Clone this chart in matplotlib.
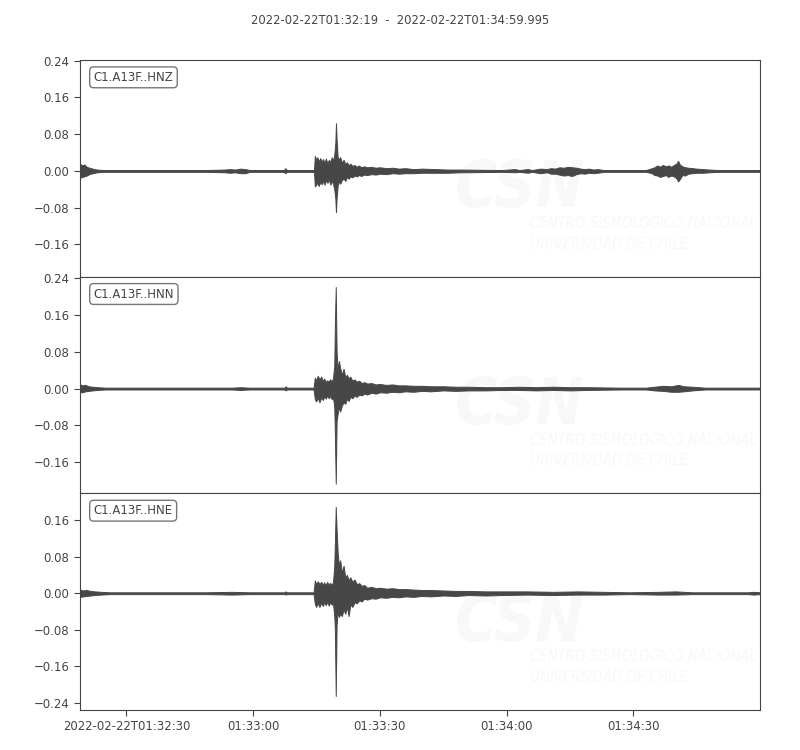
import numpy as np
import matplotlib
matplotlib.use("Agg")
import matplotlib.pyplot as plt
from matplotlib.ticker import MultipleLocator

# time in seconds after 2022-02-22T01:32:19; rows are (t, upper envelope, lower envelope)
title = "2022-02-22T01:32:19  -  2022-02-22T01:34:59.995"
channels = ["C1.A13F..HNZ", "C1.A13F..HNN", "C1.A13F..HNE"]
tick_secs = [11, 41, 71, 101, 131]
tick_labels = ["2022-02-22T01:32:30", "01:33:00", "01:33:30", "01:34:00", "01:34:30"]
t_end = 160.995

hnz_env = [
    (0, 0.016, -0.015), (0.5, 0.012, -0.013), (1.0, 0.014, -0.012), (1.6, 0.009, -0.010),
    (2.2, 0.007, -0.007), (3.0, 0.005, -0.005), (4.0, 0.003, -0.003), (5.5, 0.002, -0.002),
    (30, 0.002, -0.002), (34.3, 0.003, -0.003), (35.5, 0.004, -0.004), (36.7, 0.003, -0.003),
    (38, 0.005, -0.005), (39.1, 0.004, -0.005), (40.2, 0.002, -0.002), (48.3, 0.002, -0.002),
    (48.6, 0.006, -0.005), (49, 0.002, -0.002), (55.4, 0.002, -0.002),
    (55.6, 0.033, -0.034), (55.9, 0.024, -0.030), (56.2, 0.030, -0.026), (56.5, 0.021, -0.033),
    (56.9, 0.028, -0.024), (57.2, 0.019, -0.029), (57.5, 0.026, -0.022), (57.9, 0.018, -0.030),
    (58.2, 0.027, -0.020), (58.6, 0.016, -0.026), (58.9, 0.024, -0.018), (59.3, 0.020, -0.030),
    (59.6, 0.030, -0.022), (59.9, 0.022, -0.027), (60.2, 0.035, -0.040), (60.45, 0.060, -0.060),
    (60.6, 0.104, -0.090), (60.75, 0.070, -0.060), (61.0, 0.030, -0.032), (61.3, 0.026, -0.022),
    (61.6, 0.030, -0.028), (62.0, 0.018, -0.020), (62.4, 0.024, -0.016), (62.8, 0.015, -0.022),
    (63.2, 0.019, -0.013), (63.6, 0.012, -0.017), (64.0, 0.016, -0.012), (64.5, 0.011, -0.014),
    (65.0, 0.013, -0.010), (65.5, 0.009, -0.012), (66.0, 0.012, -0.009), (66.6, 0.008, -0.011),
    (67.2, 0.010, -0.008), (68, 0.008, -0.009), (69, 0.009, -0.007), (70, 0.007, -0.008),
    (71, 0.008, -0.006), (72.5, 0.006, -0.007), (74, 0.007, -0.005), (75.5, 0.005, -0.006),
    (77, 0.006, -0.005), (79, 0.004, -0.005), (81, 0.005, -0.004), (84, 0.004, -0.004),
    (87, 0.003, -0.004), (90, 0.003, -0.003), (100, 0.002, -0.002), (103, 0.004, -0.003),
    (104, 0.002, -0.002), (106, 0.004, -0.004), (107, 0.002, -0.002), (109, 0.005, -0.005),
    (110.5, 0.004, -0.003), (111.5, 0.006, -0.006), (112.5, 0.005, -0.006), (113.5, 0.008, -0.008),
    (114.5, 0.007, -0.010), (115.5, 0.009, -0.009), (116.5, 0.008, -0.011), (117.5, 0.007, -0.007),
    (118.5, 0.005, -0.005), (119.5, 0.004, -0.006), (120.5, 0.005, -0.004), (121.5, 0.003, -0.005),
    (122.5, 0.004, -0.004), (124, 0.002, -0.002), (134, 0.002, -0.002), (135.4, 0.006, -0.005),
    (136, 0.008, -0.009), (136.7, 0.012, -0.010), (137.3, 0.009, -0.013), (138, 0.013, -0.011),
    (138.7, 0.010, -0.009), (139.3, 0.012, -0.013), (140, 0.009, -0.010), (140.6, 0.013, -0.012),
    (141.2, 0.016, -0.016), (141.6, 0.022, -0.023), (142, 0.014, -0.018), (142.6, 0.010, -0.009),
    (143.3, 0.008, -0.010), (144, 0.007, -0.006), (145, 0.006, -0.005), (146, 0.005, -0.004),
    (147.5, 0.004, -0.004), (149, 0.003, -0.003), (151, 0.002, -0.002), (161, 0.002, -0.002),
]

hnn_env = [
    (0, 0.009, -0.008), (0.6, 0.007, -0.008), (1.3, 0.008, -0.006), (2.0, 0.005, -0.005),
    (3.0, 0.004, -0.004), (4.2, 0.003, -0.003), (6, 0.002, -0.002), (36, 0.002, -0.002),
    (38, 0.003, -0.003), (40, 0.002, -0.002), (48.4, 0.002, -0.002), (48.7, 0.005, -0.004),
    (49, 0.002, -0.002), (55.3, 0.002, -0.002),
    (55.6, 0.024, -0.023), (55.9, 0.018, -0.028), (56.3, 0.028, -0.020), (56.7, 0.020, -0.030),
    (57.1, 0.026, -0.019), (57.5, 0.016, -0.025), (57.8, 0.022, -0.017), (58.2, 0.014, -0.022),
    (58.5, 0.018, -0.015), (58.9, 0.015, -0.021), (59.2, 0.020, -0.016), (59.6, 0.016, -0.023),
    (59.9, 0.022, -0.019), (60.2, 0.050, -0.040), (60.35, 0.140, -0.100), (60.55, 0.221, -0.207),
    (60.75, 0.080, -0.070), (61.0, 0.040, -0.055), (61.3, 0.060, -0.040), (61.6, 0.045, -0.050),
    (62.0, 0.030, -0.037), (62.4, 0.043, -0.030), (62.8, 0.025, -0.033), (63.2, 0.030, -0.022),
    (63.6, 0.022, -0.027), (64.0, 0.026, -0.018), (64.5, 0.017, -0.021), (65.0, 0.020, -0.015),
    (65.5, 0.015, -0.018), (66.1, 0.017, -0.013), (66.7, 0.012, -0.015), (67.3, 0.014, -0.011),
    (68, 0.011, -0.013), (69, 0.012, -0.009), (70, 0.009, -0.011), (71, 0.010, -0.008),
    (72.5, 0.008, -0.009), (74, 0.009, -0.007), (75.5, 0.007, -0.008), (77, 0.007, -0.006),
    (79, 0.006, -0.007), (81, 0.006, -0.005), (83, 0.005, -0.006), (86, 0.005, -0.004),
    (89, 0.004, -0.005), (92, 0.004, -0.004), (96, 0.003, -0.004), (100, 0.003, -0.003),
    (104, 0.004, -0.003), (108, 0.003, -0.004), (112, 0.004, -0.003), (116, 0.003, -0.004),
    (120, 0.003, -0.003), (128, 0.002, -0.002), (134, 0.002, -0.002), (136, 0.004, -0.004),
    (138, 0.006, -0.005), (140, 0.005, -0.007), (141.6, 0.008, -0.007), (143, 0.005, -0.006),
    (145, 0.004, -0.004), (148, 0.002, -0.002), (161, 0.002, -0.002),
]

hne_env = [
    (0, 0.008, -0.008), (0.7, 0.006, -0.007), (1.5, 0.007, -0.006), (2.5, 0.005, -0.005),
    (3.5, 0.004, -0.004), (5.0, 0.003, -0.003), (7, 0.002, -0.002), (30, 0.002, -0.002),
    (36, 0.003, -0.003), (40, 0.002, -0.002), (48.4, 0.002, -0.002), (48.7, 0.004, -0.003),
    (49, 0.002, -0.002), (55.3, 0.002, -0.002),
    (55.6, 0.028, -0.023), (55.9, 0.020, -0.030), (56.3, 0.026, -0.022), (56.7, 0.020, -0.030),
    (57.1, 0.025, -0.021), (57.5, 0.018, -0.028), (57.8, 0.024, -0.020), (58.2, 0.017, -0.026),
    (58.5, 0.025, -0.019), (58.9, 0.018, -0.027), (59.2, 0.023, -0.020), (59.6, 0.018, -0.025),
    (59.9, 0.024, -0.022), (60.2, 0.060, -0.050), (60.35, 0.110, -0.080), (60.55, 0.189, -0.225),
    (60.75, 0.140, -0.070), (61.0, 0.090, -0.040), (61.3, 0.060, -0.052), (61.6, 0.072, -0.045),
    (62.0, 0.045, -0.050), (62.4, 0.060, -0.035), (62.8, 0.035, -0.045), (63.2, 0.040, -0.030),
    (63.6, 0.028, -0.050), (64.0, 0.035, -0.025), (64.5, 0.025, -0.030), (65.0, 0.030, -0.020),
    (65.5, 0.020, -0.022), (66.1, 0.022, -0.016), (66.7, 0.016, -0.018), (67.3, 0.018, -0.012),
    (68, 0.012, -0.014), (69, 0.014, -0.011), (70, 0.011, -0.012), (71, 0.012, -0.009),
    (72.5, 0.010, -0.010), (74, 0.011, -0.008), (75.5, 0.009, -0.009), (77, 0.009, -0.007),
    (79, 0.008, -0.008), (81, 0.007, -0.006), (83, 0.007, -0.007), (86, 0.006, -0.005),
    (89, 0.005, -0.006), (92, 0.005, -0.004), (96, 0.004, -0.005), (100, 0.004, -0.004),
    (106, 0.004, -0.003), (112, 0.003, -0.004), (118, 0.004, -0.003), (124, 0.003, -0.003),
    (130, 0.002, -0.002), (137, 0.003, -0.003), (141, 0.004, -0.003), (145, 0.002, -0.002),
    (158, 0.002, -0.002), (159.5, 0.003, -0.003), (161, 0.002, -0.002),
]

traces = [hnz_env, hnn_env, hne_env]
ylims = [(-0.2304, 0.2417), (-0.228, 0.2435), (-0.2557, 0.2186)]

ink = "#474747"
txt = "#444444"
wm = "#f8f8f8"
plt.rcParams["font.family"] = "DejaVu Sans"
plt.rcParams["font.stretch"] = "condensed"

fig, axes = plt.subplots(3, 1, figsize=(8, 7.5), dpi=100, sharex=True)
fig.subplots_adjust(left=0.1, right=0.95, top=0.92, bottom=0.0533, hspace=0)
fig.suptitle(title, y=0.982, fontsize=9.3, color=txt)

for ax, env, name, yl in zip(axes, traces, channels, ylims):
    t, up, lo = np.array(env).T
    # faint CSN watermark
    ax.text(0.552, 0.32, "CSN", transform=ax.transAxes, fontsize=46, fontweight="bold",
            style="italic", color=wm, zorder=0, clip_on=True)
    ax.text(0.662, 0.225, "CENTRO SISMOLÓGICO NACIONAL", transform=ax.transAxes, fontsize=10.6,
            style="italic", color=wm, zorder=0, clip_on=True)
    ax.text(0.662, 0.13, "UNIVERSIDAD DE CHILE", transform=ax.transAxes, fontsize=10.6,
            style="italic", color=wm, zorder=0, clip_on=True)

    ax.fill_between(t, lo, up, color=ink, lw=0.7, zorder=2)
    ax.set_xlim(0, t_end)
    ax.set_ylim(*yl)
    ax.yaxis.set_major_locator(MultipleLocator(0.08))
    ax.yaxis.set_major_formatter(plt.FuncFormatter(lambda v, p: f"{v:.2f}".replace("-", "\u2212")))
    ax.tick_params(axis="y", labelsize=9.4, colors=txt, length=4)
    ax.tick_params(axis="x", labelsize=9.4, colors=txt, length=4)
    for s in ax.spines.values():
        s.set_color("#444444")
    ax.text(0.02, 0.95, name, transform=ax.transAxes, va="top", ha="left", fontsize=9.4,
            color=txt, bbox=dict(boxstyle="round", fc="white", ec="#555555", alpha=0.8))

axes[-1].set_xticks(tick_secs)
axes[-1].set_xticklabels(tick_labels)
for ax in axes[:-1]:
    ax.tick_params(axis="x", length=0, labelbottom=False)

fig.savefig("out.png", dpi=100)
